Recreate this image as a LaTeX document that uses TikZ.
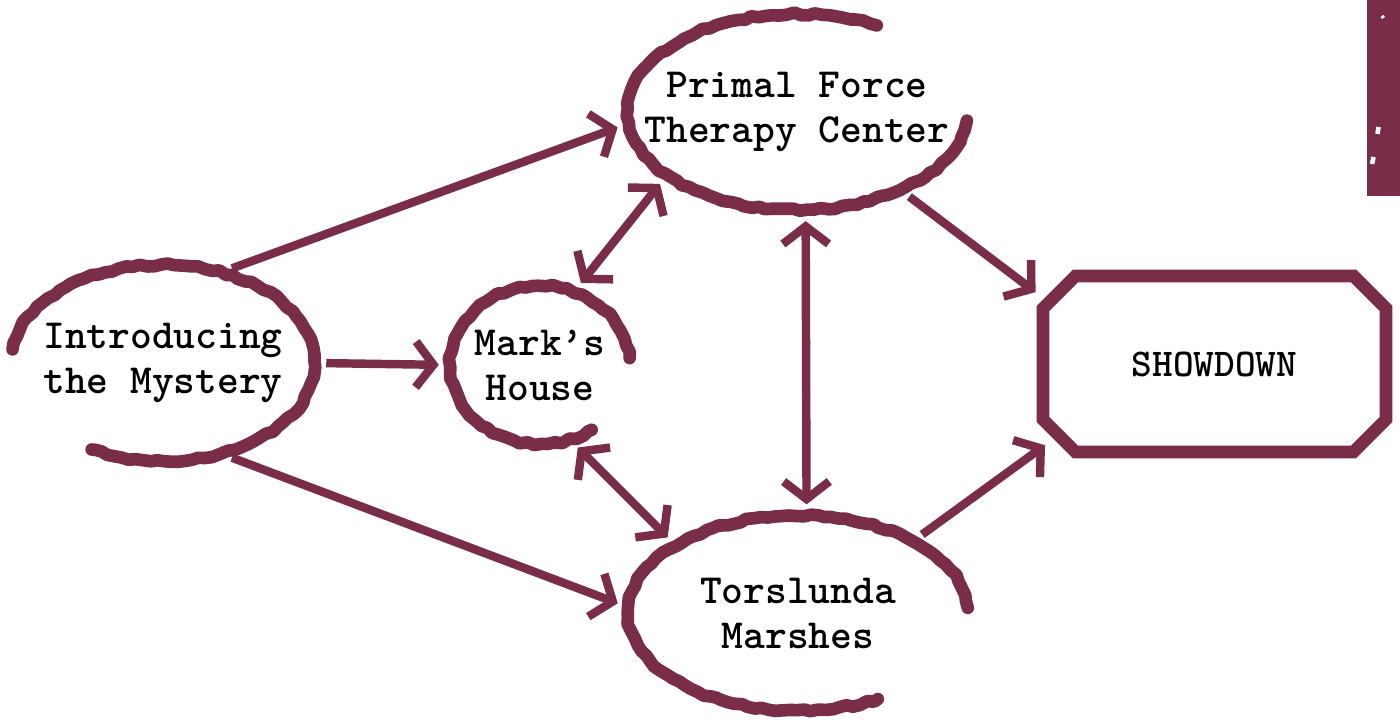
\documentclass[tikz,border=0pt]{standalone}
\usepackage{xcolor}
\definecolor{MarshWine}{HTML}{7A2D48}
\usepackage{tikz}
\usetikzlibrary{
  arrows.meta, decorations.pathmorphing,
  shapes.geometric, shapes.misc, positioning
}

\begin{document}
\begin{tikzpicture}
% ============================================================
%  Scenario flow: locations leading to the showdown
% ============================================================

\tikzset{
  place/.style={ellipse, draw=none, inner sep=0pt},
  finale/.style={chamfered rectangle, chamfered rectangle xsep=0.2cm,
    chamfered rectangle ysep=0.2cm, draw=MarshWine, line width=3.6pt,
    minimum width=3.43cm, minimum height=1.76cm, inner sep=0pt,
    font=\fontsize{11.2}{12.8}\selectfont\ttfamily\bfseries},
  lbl/.style={align=center, inner sep=0pt,
    font=\fontsize{11.8}{12.8}\selectfont\ttfamily\bfseries},
  brush/.style={MarshWine, line width=3.6pt, line cap=round, line join=round,
    decorate, decoration={random steps, segment length=2pt, amplitude=0.4pt}},
  conn/.style={MarshWine, line width=2.4pt,
    -{Straight Barb[length=5pt, width=13pt]},
    shorten <=3pt, shorten >=3pt},
  both/.style={conn, {Straight Barb[length=5pt, width=13pt]}-{Straight Barb[length=5pt, width=13pt]}},
}
\pgfmathsetseed{7}

\useasboundingbox (0,0) rectangle (14,7.2);

  % ── Corner bar ─────────────────────────────────────────────
  \fill[MarshWine] (13.67,5.24) rectangle (14,7.2);
  \draw[white, line width=1pt] (13.82,7.04) -- (13.835,7.02);
  \draw[white, line width=1.3pt] (13.785,5.93) -- (13.775,5.86);
  \draw[white, line width=1.3pt] (13.735,5.63) -- (13.72,5.56);

  % ── Locations ──────────────────────────────────────────────
  \node[place, minimum width=3.04cm, minimum height=1.96cm,
    label={[lbl]center:Introducing\\the Mystery}] (intro) at (1.63,3.57) {};
  \draw[brush] (intro.center) ++(172:1.52 and 0.98)
    arc[start angle=172, end angle=-118, x radius=1.52, y radius=0.98];

  \node[place, minimum width=1.80cm, minimum height=1.58cm,
    label={[lbl]center:Mark’s\\House}] (mark) at (5.40,3.55) {};
  \draw[brush] (mark.center) ++(5:0.90 and 0.79)
    arc[start angle=5, end angle=305, x radius=0.90, y radius=0.79];

  \node[place, minimum width=3.40cm, minimum height=1.96cm,
    label={[lbl]center:Primal Force\\Therapy Center}] (primal) at (7.97,6.08) {};
  \draw[brush] (primal.center) ++(62:1.70 and 0.98)
    arc[start angle=62, end angle=355, x radius=1.70, y radius=0.98];

  \node[place, minimum width=3.40cm, minimum height=1.95cm,
    label={[lbl]center:Torslunda\\Marshes}] (torsl) at (7.98,1.07) {};
  \draw[brush] (torsl.center) ++(3:1.70 and 0.975)
    arc[start angle=3, end angle=298, x radius=1.70, y radius=0.975];

  \node[finale] (show) at (12.145,3.56) {SHOWDOWN};

  % ── Connections ────────────────────────────────────────────
  \draw[conn] (intro.57) -- (primal.184);
  \draw[conn] (intro.east) -- (mark.west);
  \draw[conn] (intro.-57) -- (torsl.178);
  \draw[both] (mark.65) -- (primal.206);
  \draw[both] (mark.-68) -- (torsl.151);
  \draw[both] (primal.-85) -- (torsl.85);
  \draw[conn] (primal.-37) -- (show.159);
  \draw[conn] (torsl.32) -- (show.205);

\end{tikzpicture}
\end{document}
